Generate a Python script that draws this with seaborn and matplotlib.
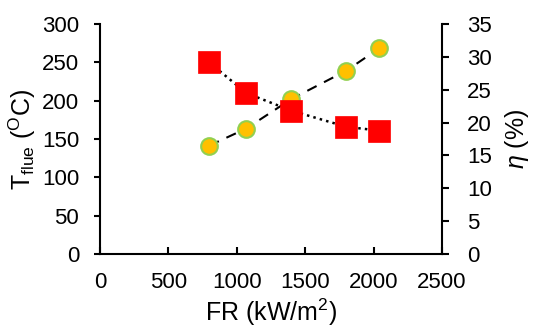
import matplotlib
matplotlib.use("Agg")
import matplotlib.pyplot as plt
import seaborn as sns

# 데이터
fr = [800, 1070, 1400, 1800, 2040]
t_flue = [250, 210, 187, 166, 161]
eta = [16.5, 19.1, 23.6, 27.9, 31.3]

sns.set_style("ticks", {"text.color": "black", "xtick.color": "black",
                        "ytick.color": "black", "axes.labelcolor": "black"})
plt.rcParams["font.family"] = ["Liberation Sans", "DejaVu Sans"]
plt.rcParams["mathtext.fontset"] = "custom"
plt.rcParams["mathtext.rm"] = "Liberation Sans"
plt.rcParams["mathtext.it"] = "Liberation Sans:italic"

fig = plt.figure(figsize=(5.49, 3.31), dpi=100)
ax = fig.add_axes([0.182, 0.233, 0.623, 0.694])
ax2 = ax.twinx()

# 효율 (오른쪽 축, 원형 마커 + 파선)
sns.lineplot(x=fr, y=eta, ax=ax2, color="black", linestyle=(0, (5, 4)), linewidth=1.5,
             marker="o", markersize=12, markerfacecolor="#FFC000",
             markeredgecolor="#92D050", markeredgewidth=1.5)

# 배기 온도 (왼쪽 축, 사각 마커 + 점선)
sns.lineplot(x=fr, y=t_flue, ax=ax, color="black", linestyle=":", linewidth=1.8,
             marker="s", markersize=16, markerfacecolor="#FF0000",
             markeredgecolor="#FF0000", markeredgewidth=0.5)

ax.set_zorder(ax2.get_zorder() + 1)
ax.patch.set_visible(False)

ax.set_xlim(0, 2500)
ax.set_ylim(0, 300)
ax2.set_ylim(0, 35)
ax.set_xticks([0, 500, 1000, 1500, 2000, 2500])
ax.set_yticks([0, 50, 100, 150, 200, 250, 300])
ax2.set_yticks([0, 5, 10, 15, 20, 25, 30, 35])

for a in (ax, ax2):
    a.spines["top"].set_visible(False)
    for s in a.spines.values():
        s.set_linewidth(1.5)
        s.set_color("black")
ax.spines["right"].set_visible(False)
ax2.spines["left"].set_visible(False)
ax2.spines["bottom"].set_visible(False)

ax.tick_params(axis="x", direction="in", length=5, width=1.5, labelsize=16, pad=13,
               colors="black")
ax.tick_params(axis="y", direction="out", length=4, width=1.5, labelsize=16, pad=11,
               colors="black")
ax2.tick_params(axis="y", direction="out", length=5, width=1.5, labelsize=16, pad=13,
                colors="black")

ax.set_xlabel("FR (kW/m$^{\\mathregular{2}}$)", fontsize=18, labelpad=3)
ax.set_ylabel("T$_{\\mathregular{flue}}$ ($^{\\mathregular{O}}$C)", fontsize=18, labelpad=3)
ax2.set_ylabel("$\\eta$ (%)", fontsize=18, labelpad=8)

fig.savefig("out.png", dpi=100)
